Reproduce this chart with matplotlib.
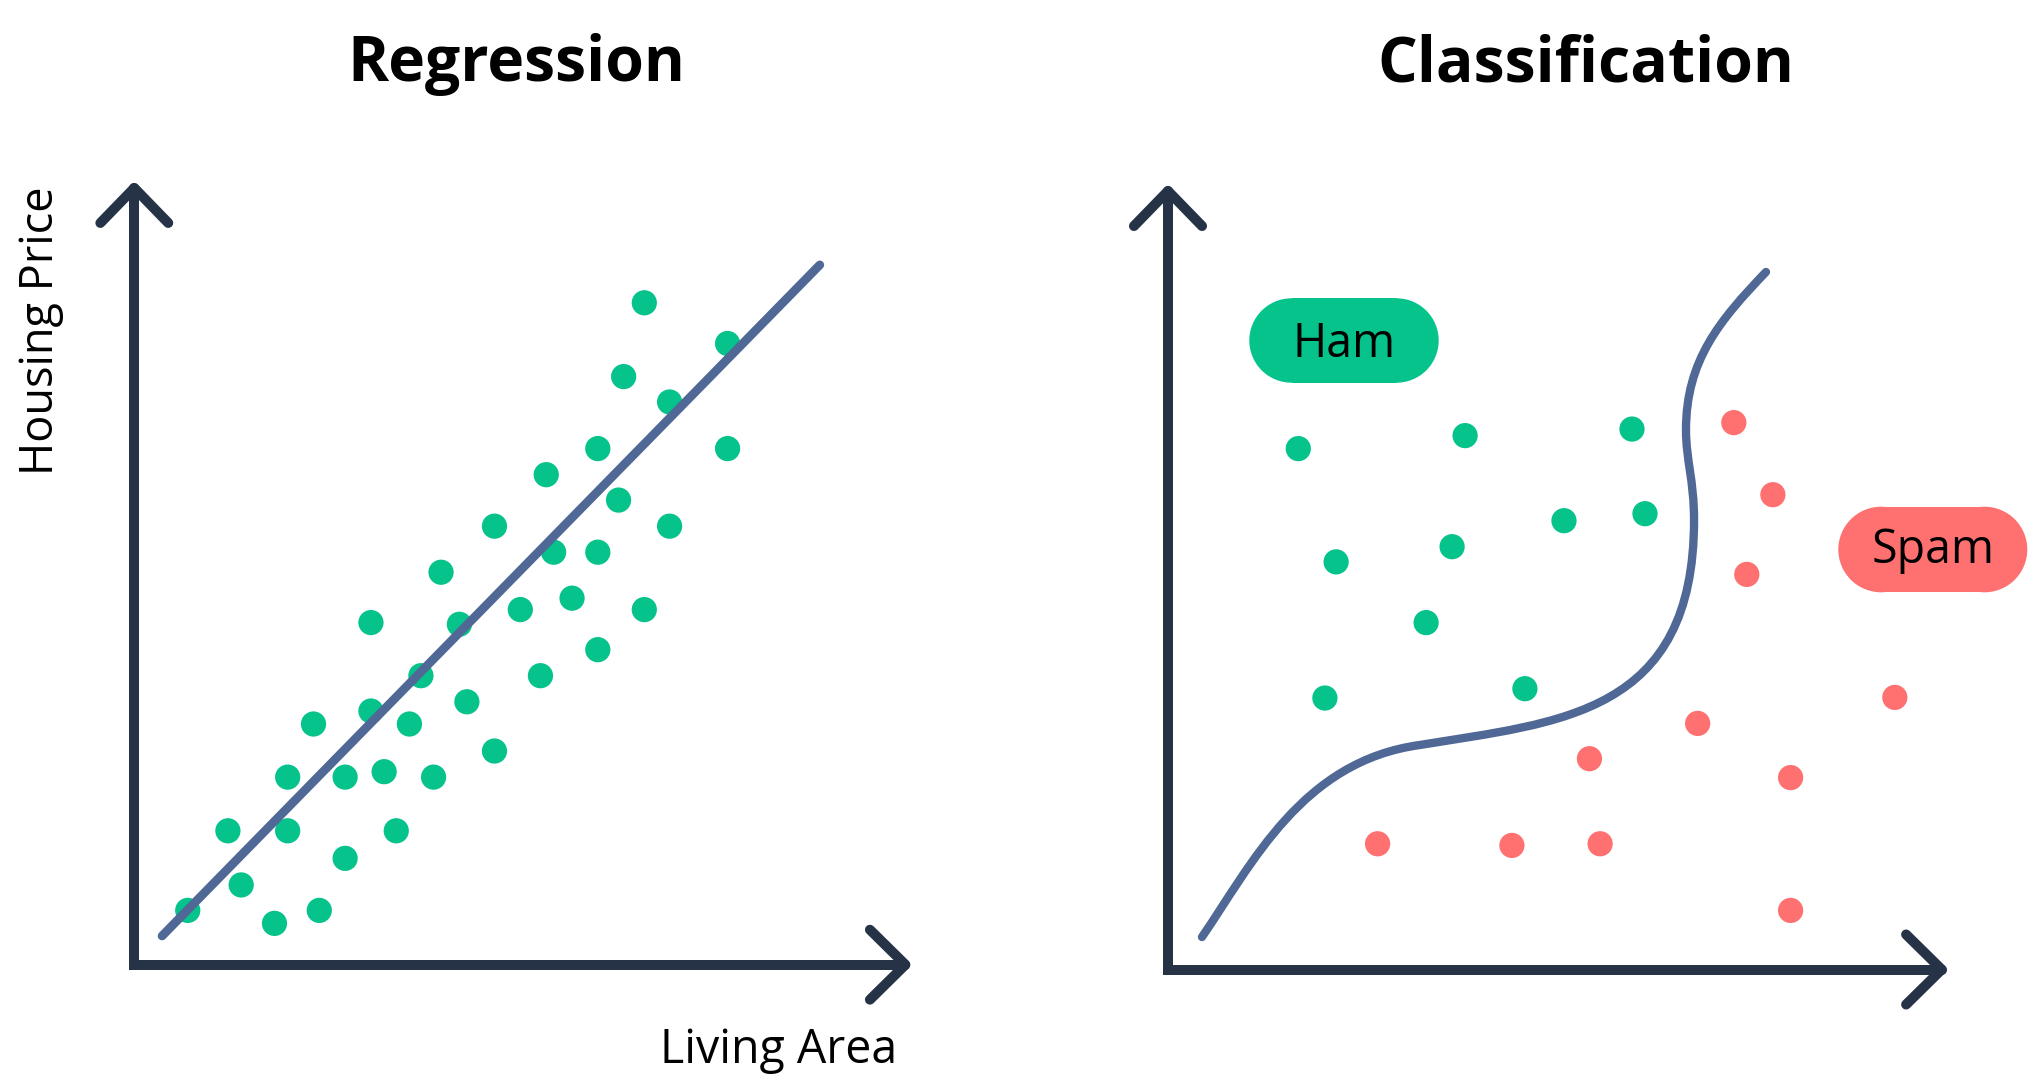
import matplotlib
matplotlib.use("Agg")
import matplotlib.pyplot as plt
from matplotlib.patches import Rectangle, Circle, PathPatch
from matplotlib.path import Path

# ---------------- data ----------------
titles = ["Regression", "Classification"]
x_label = "Living Area"
y_label = "Housing Price"
class_labels = ["Ham", "Spam"]

# Regression panel (axes run 0..100)
reg_area = [66.14, 76.94, 63.46, 69.42, 76.94, 60.11, 53.42, 62.80, 46.71, 69.42,
            54.38, 60.11, 39.78, 56.77, 50.06, 66.14, 30.69, 42.16, 60.11, 37.17,
            52.67, 30.69, 43.13, 23.24, 35.68, 19.89, 27.34, 32.40, 38.81, 46.71,
            12.14, 19.89, 33.97, 13.86, 27.34, 6.93, 18.18, 23.99]
reg_price = [85.22, 79.98, 75.72, 72.45, 66.45, 66.45, 63.09, 59.82, 56.46, 56.46,
             53.11, 53.11, 50.53, 47.19, 45.72, 45.72, 44.05, 43.83, 40.56, 37.21,
             37.21, 32.66, 33.85, 30.99, 30.99, 24.15, 24.15, 24.85, 24.15, 27.51,
             17.24, 17.24, 17.24, 10.27, 13.69, 6.99, 5.32, 6.99]
fit_area = [3.6, 88.9]
fit_price = [3.7, 90.1]

# Classification panel (axes run 0..100)
ham_x = [16.84, 38.40, 59.97, 21.73, 36.72, 51.18, 61.65, 33.36, 20.28, 46.13]
ham_y = [66.91, 68.58, 69.42, 52.36, 54.31, 57.65, 58.55, 44.56, 34.87, 36.07]
spam_x = [73.13, 78.18, 74.81, 93.94, 68.46, 54.47, 80.47, 27.09, 44.45, 55.85, 80.47]
spam_y = [70.25, 60.99, 50.75, 34.95, 31.61, 27.08, 24.65, 16.15, 15.94, 16.15, 7.59]

# decision boundary: cubic Bezier vertices
boundary_x = [4.39, 10.86, 17.32, 32.57, 50.66, 67.99, 67.99, 67.99, 66.95, 66.95,
              66.95, 71.35, 77.29]
boundary_y = [4.17, 13.55, 26.78, 28.84, 31.79, 32.69, 57.74, 62.88, 65.45, 69.30,
              78.29, 83.43, 89.60]

# ---------------- style ----------------
W, H = 2028, 1088
AXIS_C = "#263347"
LINE_C = "#4F6896"
GREEN = "#05C38B"
RED = "#FF7070"
FONT = ["Open Sans", "DejaVu Sans"]
DOT_S = 330

fig = plt.figure(figsize=(W / 100, H / 100), dpi=100)
fig.patch.set_facecolor("white")


def rect(x0, y0, x1, y1):
    return [x0 / W, 1 - y1 / H, (x1 - x0) / W, (y1 - y0) / H]


def draw_arrows(ax):
    kw = dict(color=AXIS_C, lw=7.2, clip_on=False, zorder=2)
    ax.plot([0, 0, 100], [100, 0, 0], solid_joinstyle="miter",
            solid_capstyle="round", **kw)
    ax.plot([-4.4, 0, 4.4], [95.5, 100, 95.5], solid_joinstyle="round",
            solid_capstyle="round", **kw)
    ax.plot([95.4, 100, 95.4], [4.5, 0, -4.5], solid_joinstyle="round",
            solid_capstyle="round", **kw)


def setup(ax):
    ax.set_xlim(0, 100)
    ax.set_ylim(0, 100)
    ax.set_axis_off()


axL = fig.add_axes(rect(134.3, 188, 905.4, 964.7))
axR = fig.add_axes(rect(1168, 191, 1941.7, 969.5))
for ax in (axL, axR):
    setup(ax)
    draw_arrows(ax)

# Regression panel
axL.scatter(reg_area, reg_price, s=DOT_S, color=GREEN, edgecolors="none", zorder=3)
axL.plot(fit_area, fit_price, color=LINE_C, lw=6.3, solid_capstyle="round", zorder=4)

# Classification panel
axR.scatter(ham_x, ham_y, s=DOT_S, color=GREEN, edgecolors="none", zorder=3)
axR.scatter(spam_x, spam_y, s=DOT_S, color=RED, edgecolors="none", zorder=3)
verts = list(zip(boundary_x, boundary_y))
codes = [Path.MOVETO] + [Path.CURVE4] * (len(verts) - 1)
axR.add_patch(PathPatch(Path(verts, codes), fc="none", ec=LINE_C, lw=6.0,
                        capstyle="round", zorder=4, clip_on=False))


# pills (pixel layout, drawn in inches)
def pill(cx, cy, w, h, color, label, base_y):
    r = h / 2
    tr = fig.dpi_scale_trans
    yc = (H - cy) / 100
    parts = [
        Rectangle(((cx - w / 2 + r) / 100, yc - r / 100), (w - 2 * r) / 100, h / 100),
        Circle(((cx - w / 2 + r) / 100, yc), r / 100),
        Circle(((cx + w / 2 - r) / 100, yc), r / 100),
    ]
    for p in parts:
        p.set_transform(tr)
        p.set_facecolor(color)
        p.set_edgecolor("none")
        p.set_zorder(5)
        fig.add_artist(p)
    fig.text(cx / W, 1 - base_y / H, label, ha="center", va="baseline",
             fontsize=33.5, color="black", family=FONT, zorder=6)


pill(1344, 340.5, 189.4, 84.4, GREEN, class_labels[0], 356.7)
pill(1932.8, 549.5, 189, 85.6, RED, class_labels[1], 563.3)

# titles and labels
fig.text(516.7 / W, 1 - 80.7 / H, titles[0], ha="center", va="baseline",
         fontsize=45, fontweight="bold", family=FONT)
fig.text(1585.5 / W, 1 - 81.5 / H, titles[1], ha="center", va="baseline",
         fontsize=45, fontweight="bold", family=FONT)
fig.text(897 / W, 1 - 1062.7 / H, x_label, ha="right", va="baseline",
         fontsize=33.5, family=FONT)
fig.text(53.3 / W, 1 - 330.5 / H, y_label, ha="center", va="baseline",
         rotation=90, rotation_mode="anchor", fontsize=32.5, family=FONT)

fig.savefig("out.png", dpi=100, facecolor="white")
